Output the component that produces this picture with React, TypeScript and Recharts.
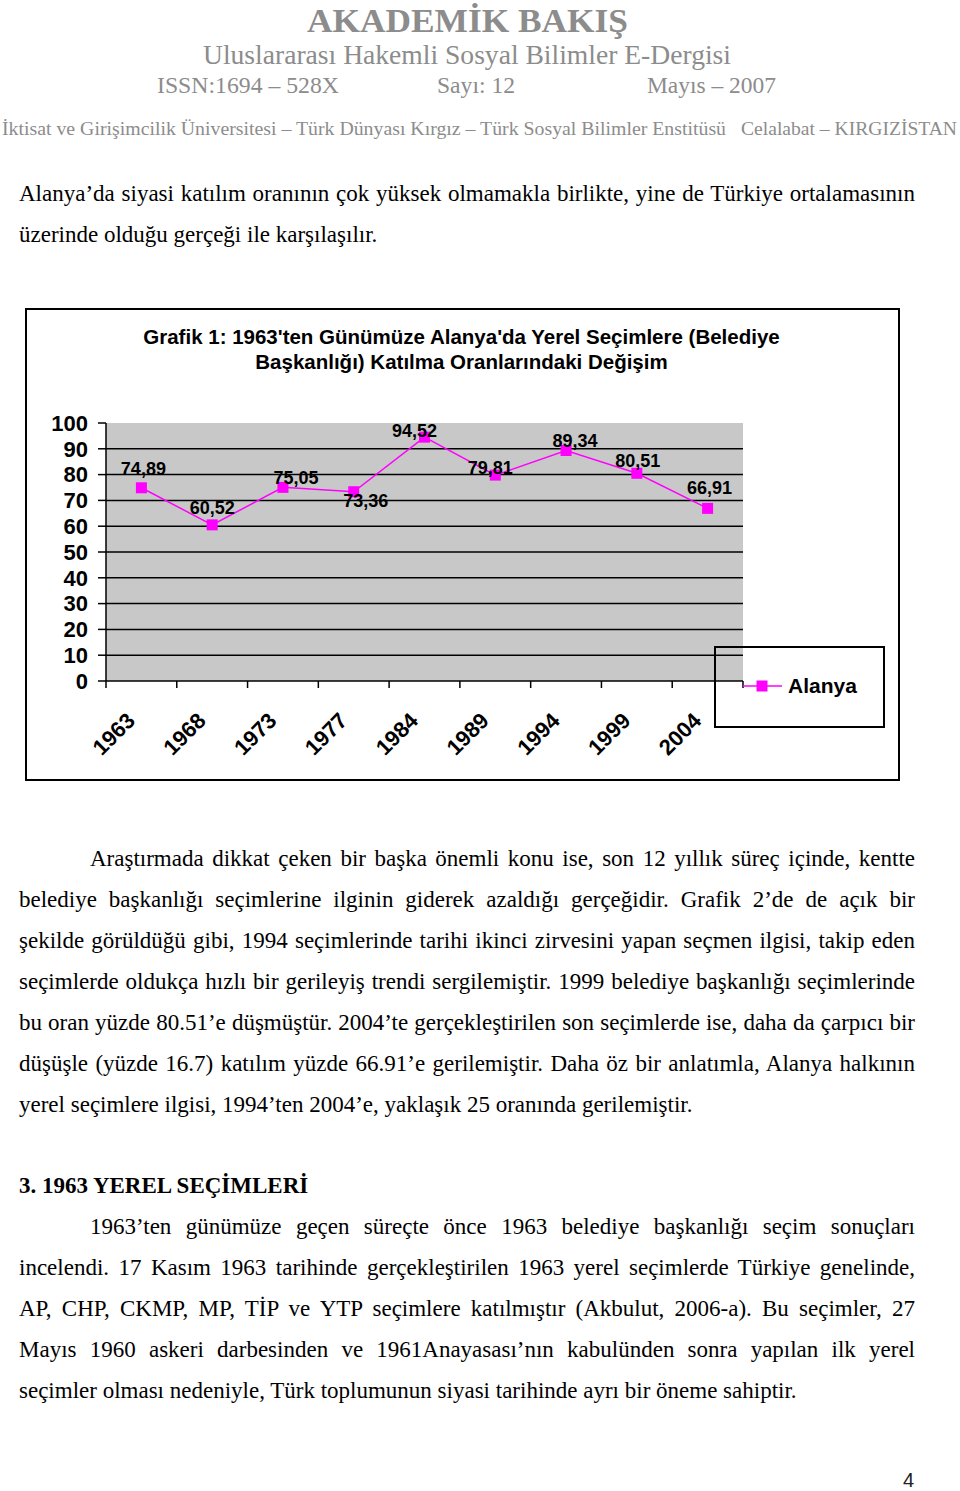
import React from 'react';
import { LineChart, Line, XAxis, YAxis, CartesianGrid, LabelList, Legend } from 'recharts';

const YEARS = ['1963', '1968', '1973', '1977', '1984', '1989', '1994', '1999', '2004'];
const ALANYA = [74.89, 60.52, 75.05, 73.36, 94.52, 79.81, 89.34, 80.51, 66.91];
const Y_TICKS = [0, 10, 20, 30, 40, 50, 60, 70, 80, 90, 100];
const SERIES_NAME = 'Alanya';

const TITLE_LINES = [
  "Grafik 1: 1963'ten Günümüze Alanya'da Yerel Seçimlere (Belediye",
  'Başkanlığı) Katılma Oranlarındaki Değişim',
];

// labels were dragged around by hand in the original, so nudge each one
const LABEL_NUDGE: [number, number][] = [
  [2, -19], [0, -17], [13, -10], [12, 9], [-10, -6], [-5, -7], [9, -10], [1, -13], [2, -21],
];

const chartData = YEARS.map((year, i) => ({ year, alanya: ALANYA[i] }));

// chart geometry
const CHART_W = 869;
const CHART_H = 468;
const Y_AXIS_W = 79;
const X_AXIS_H = 97;
const MARGIN = { top: 113, right: 153, bottom: 0, left: 0 };
const PLOT_W = CHART_W - MARGIN.right - Y_AXIS_W;
const BAND = PLOT_W / YEARS.length;
const HALF = BAND / 2;

const SANS = '"Liberation Sans", Arial, sans-serif';
const SERIF = '"Liberation Serif", "Times New Roman", serif';
const MAGENTA = '#FF00FF';

const fmt = (v: number) => v.toFixed(2).replace('.', ',');

const XTick = (props: any) => {
  const { x, y, payload, index } = props;
  return (
    <g>
      <line x1={x - HALF} x2={x - HALF} y1={y} y2={y + 7} stroke="#000" strokeWidth={1.5} />
      {index === YEARS.length - 1 && (
        <line x1={x + HALF} x2={x + HALF} y1={y} y2={y + 7} stroke="#000" strokeWidth={1.5} />
      )}
      <text
        transform={`translate(${x - 5},${y + 41}) rotate(-45)`}
        textAnchor="end"
        fontSize={22}
        fontWeight="bold"
        fontFamily={SANS}
        fill="#000"
      >
        {payload.value}
      </text>
    </g>
  );
};

const SquareDot = (props: any) => {
  const { cx, cy, index } = props;
  if (cx == null || cy == null) return <g key={`d-${index}`} />;
  return <rect key={`d-${index}`} x={cx - 5.5} y={cy - 5.5} width={11} height={11} fill={MAGENTA} />;
};

const renderLabel = (props: any) => {
  const { x, y, value } = props;
  const idx = props.index != null ? props.index : ALANYA.indexOf(Number(value));
  const [dx, dy] = LABEL_NUDGE[idx] || [0, -14];
  return (
    <text
      key={`l-${idx}`}
      x={Number(x) + dx}
      y={Number(y) + dy}
      dy="0.35em"
      textAnchor="middle"
      fontSize={18}
      fontWeight="bold"
      fontFamily={SANS}
      fill="#000"
    >
      {fmt(Number(value))}
    </text>
  );
};

const renderLegend = () => (
  <div
    style={{
      width: 171,
      height: 82,
      border: '2px solid #000',
      boxSizing: 'border-box',
    }}
  >
    <svg width={167} height={78}>
      <line x1={27} x2={66} y1={38} y2={38} stroke={MAGENTA} strokeWidth={1.5} />
      <rect x={40.5} y={32.5} width={11} height={11} fill={MAGENTA} />
      <text x={72} y={38} dy="0.35em" fontSize={21} fontWeight="bold" fontFamily={SANS} fill="#000">
        {SERIES_NAME}
      </text>
    </svg>
  </div>
);

function Grafik1() {
  return (
    <div
      style={{
        position: 'absolute',
        left: 25,
        top: 308,
        width: 875,
        height: 473,
        border: '2px solid #000',
        boxSizing: 'border-box',
        background: '#fff',
      }}
    >
      <div
        style={{
          position: 'absolute',
          left: 0,
          top: 14,
          width: CHART_W,
          textAlign: 'center',
          fontFamily: SANS,
          fontWeight: 'bold',
          fontSize: 20.5,
          lineHeight: '25px',
          color: '#000',
          zIndex: 2,
        }}
      >
        {TITLE_LINES.map((t) => (
          <div key={t}>{t}</div>
        ))}
      </div>
      <LineChart width={CHART_W} height={CHART_H} data={chartData} margin={MARGIN}>
        <CartesianGrid
          vertical={false}
          horizontalValues={Y_TICKS.filter((t) => t > 0 && t < 100)}
          stroke="#000"
          strokeWidth={1.5}
          fill="#C8C8C8"
          fillOpacity={1}
        />
        <XAxis
          dataKey="year"
          height={X_AXIS_H}
          padding={{ left: HALF, right: HALF }}
          tickSize={0}
          tickMargin={0}
          tickLine={false}
          axisLine={{ stroke: '#000', strokeWidth: 1.5 }}
          tick={<XTick />}
          interval={0}
        />
        <YAxis
          width={Y_AXIS_W}
          domain={[0, 100]}
          ticks={Y_TICKS}
          interval={0}
          tickSize={8}
          tickMargin={10}
          axisLine={{ stroke: '#000', strokeWidth: 1.5 }}
          tickLine={{ stroke: '#000', strokeWidth: 1.5 }}
          tick={{ fill: '#000', fontSize: 22, fontWeight: 'bold', fontFamily: SANS }}
        />
        <Legend
          layout="horizontal"
          verticalAlign="middle"
          align="center"
          wrapperStyle={{ left: 687, top: 336, width: 171, height: 82 }}
          content={renderLegend}
        />
        <Line
          type="linear"
          dataKey="alanya"
          name={SERIES_NAME}
          stroke={MAGENTA}
          strokeWidth={1.5}
          dot={<SquareDot />}
          activeDot={false}
          isAnimationActive={false}
        >
          <LabelList dataKey="alanya" content={renderLabel} />
        </Line>
      </LineChart>
    </div>
  );
}

// --- page text around the chart ---
type TextLineProps = {
  text: string;
  top: number;
  indent?: number;
  justify?: boolean;
  bold?: boolean;
};

function TextLine({ text, top, indent = 0, justify = true, bold = false }: TextLineProps) {
  return (
    <div
      style={{
        position: 'absolute',
        left: 19 + indent,
        top,
        width: 896 - indent,
        height: 41,
        lineHeight: '41px',
        fontSize: 23,
        fontFamily: SERIF,
        fontWeight: bold ? 'bold' : 'normal',
        color: '#000',
        whiteSpace: 'nowrap',
        textAlign: justify ? 'justify' : 'left',
        textAlignLast: justify ? 'justify' : 'left',
      }}
    >
      {text}
    </div>
  );
}

const PARA_1 = [
  'Alanya’da siyasi katılım oranının çok yüksek olmamakla birlikte, yine de Türkiye ortalamasının',
  'üzerinde olduğu gerçeği ile karşılaşılır.',
];

const PARA_2 = [
  'Araştırmada dikkat çeken bir başka önemli konu ise, son 12 yıllık süreç içinde, kentte',
  'belediye başkanlığı seçimlerine ilginin giderek azaldığı gerçeğidir. Grafik 2’de de açık bir',
  'şekilde görüldüğü gibi, 1994 seçimlerinde tarihi ikinci zirvesini yapan seçmen ilgisi, takip eden',
  'seçimlerde oldukça hızlı bir gerileyiş trendi sergilemiştir. 1999 belediye başkanlığı seçimlerinde',
  'bu oran yüzde 80.51’e düşmüştür. 2004’te gerçekleştirilen son seçimlerde ise, daha da çarpıcı bir',
  'düşüşle (yüzde 16.7) katılım yüzde 66.91’e gerilemiştir. Daha öz bir anlatımla, Alanya halkının',
  'yerel seçimlere ilgisi, 1994’ten 2004’e, yaklaşık 25 oranında gerilemiştir.',
];

const HEADING = '3. 1963 YEREL SEÇİMLERİ';

const PARA_3 = [
  '1963’ten günümüze geçen süreçte önce 1963 belediye başkanlığı seçim sonuçları',
  'incelendi. 17 Kasım 1963 tarihinde gerçekleştirilen 1963 yerel seçimlerde Türkiye genelinde,',
  'AP, CHP, CKMP, MP, TİP ve YTP seçimlere katılmıştır (Akbulut, 2006-a). Bu seçimler, 27',
  'Mayıs 1960 askeri darbesinden ve 1961Anayasası’nın kabulünden sonra yapılan ilk yerel',
  'seçimler olması nedeniyle, Türk toplumunun siyasi tarihinde ayrı bir öneme sahiptir.',
];

function Paragraph({ lines, top, indentFirst }: { lines: string[]; top: number; indentFirst: boolean }) {
  return (
    <>
      {lines.map((t, i) => (
        <TextLine
          key={i}
          text={t}
          top={top + i * 41}
          indent={indentFirst && i === 0 ? 71 : 0}
          justify={i < lines.length - 1}
        />
      ))}
    </>
  );
}

function Header() {
  const grey = '#8c8c8c';
  return (
    <svg width={960} height={150} style={{ position: 'absolute', left: 0, top: 0 }}>
      <text x={467.5} y={32} textAnchor="middle" fontFamily={SERIF} fontWeight="bold" fontSize={34}
        fill={grey} textLength={321} lengthAdjust="spacingAndGlyphs">AKADEMİK BAKIŞ</text>
      <text x={467} y={64} textAnchor="middle" fontFamily={SERIF} fontSize={28}
        fill={grey} textLength={528} lengthAdjust="spacingAndGlyphs">Uluslararası Hakemli Sosyal Bilimler E-Dergisi</text>
      <text x={157} y={93} fontFamily={SERIF} fontSize={24} fill={grey}
        textLength={182} lengthAdjust="spacingAndGlyphs">ISSN:1694 – 528X</text>
      <text x={437} y={93} fontFamily={SERIF} fontSize={24} fill={grey}
        textLength={78} lengthAdjust="spacingAndGlyphs">Sayı: 12</text>
      <text x={647} y={93} fontFamily={SERIF} fontSize={24} fill={grey}
        textLength={129} lengthAdjust="spacingAndGlyphs">Mayıs – 2007</text>
      <text x={2} y={135} fontFamily={SERIF} fontSize={19.5} fill={grey}
        textLength={724} lengthAdjust="spacingAndGlyphs">İktisat ve Girişimcilik Üniversitesi – Türk Dünyası Kırgız – Türk Sosyal Bilimler Enstitüsü</text>
      <text x={741} y={135} fontFamily={SERIF} fontSize={19.5} fill={grey}
        textLength={216} lengthAdjust="spacingAndGlyphs">Celalabat – KIRGIZİSTAN</text>
    </svg>
  );
}

export default function App() {
  return (
    <div style={{ position: 'absolute', left: 0, top: 0, width: 960, height: 1491, background: '#fff' }}>
      <Header />
      <Paragraph lines={PARA_1} top={173} indentFirst={false} />
      <Grafik1 />
      <Paragraph lines={PARA_2} top={838} indentFirst />
      <TextLine text={HEADING} top={1165} justify={false} bold />
      <Paragraph lines={PARA_3} top={1206} indentFirst />
      <div
        style={{
          position: 'absolute',
          left: 903,
          top: 1468,
          fontFamily: SANS,
          fontSize: 20,
          lineHeight: '24px',
          color: '#222',
        }}
      >
        4
      </div>
    </div>
  );
}
